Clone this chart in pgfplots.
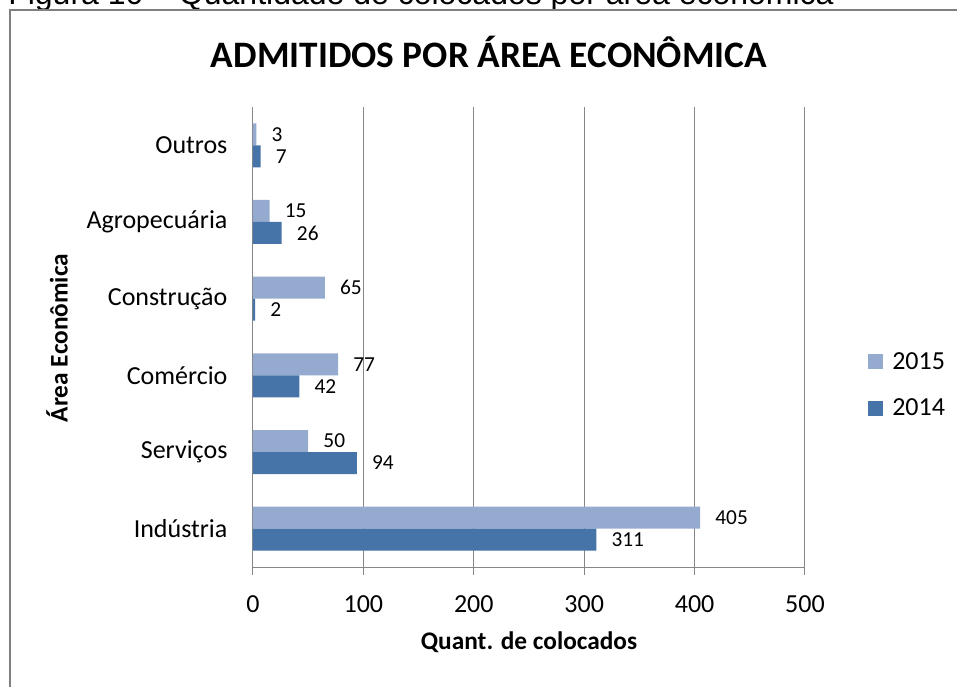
\documentclass[border=0pt]{standalone}
\usepackage{pgfplots}
\pgfplotsset{compat=1.18}
\usepackage{fontspec}
\setmainfont{Carlito}
\newfontfamily\arialfont{Liberation Sans}

\definecolor{c2015}{RGB}{149,170,207}
\definecolor{c2014}{RGB}{70,115,168}
\definecolor{gridgray}{RGB}{134,134,134}
\definecolor{framegray}{RGB}{128,128,128}

% admitidos por area: 0 = Industria ... 5 = Outros
\pgfplotstableread{
pos y2015 y2014
0 405 311
1 50 94
2 77 42
3 65 2
4 15 26
5 3 7
}\admitidos

\begin{document}
\begin{tikzpicture}
\useasboundingbox (0,0) rectangle (717.75pt,514.5pt);
\clip (0,0) rectangle (717.75pt,514.5pt);

\node[anchor=base west, inner sep=0pt, font=\arialfont\fontsize{24}{28}\selectfont]
  at (6pt,510.75pt) {Figura 10 – Quantidade de colocados por área econômica};
\draw[framegray, line width=1.5pt] (7.5pt,-5pt) -- (7.5pt,507pt) -- (725pt,507pt);

\node[anchor=base, inner sep=0pt, font=\bfseries\fontsize{28}{32}\selectfont]
  at (366.75pt,463.5pt) {ADMITIDOS POR ÁREA ECONÔMICA};

\begin{axis}[
  at={(189.75pt,89.25pt)}, anchor=south west,
  width=414pt, height=345pt, scale only axis,
  xbar, bar width=16.5pt,
  xmin=0, xmax=500, xtick={0,100,...,500},
  ymin=-0.5, ymax=5.5, ytick={0,...,5},
  yticklabels={Indústria,Serviços,Comércio,Construção,Agropecuária,Outros},
  axis x line*=bottom, axis y line*=left,
  axis line style={gridgray, line width=0.75pt},
  xmajorgrids, major grid style={gridgray, line width=0.75pt},
  xtick align=outside, major tick length=6pt,
  xtick style={gridgray, line width=0.75pt},
  ytick style={draw=none},
  /pgf/number format/assume math mode=true,
  tick label style={font=\fontsize{19.5}{22}\selectfont},
  xticklabel style={anchor=north, inner sep=0pt, yshift=-15pt},
  yticklabel style={anchor=east, inner sep=0pt, xshift=-13pt},
  xlabel={Quant. de colocados},
  xlabel style={font=\bfseries\fontsize{19}{22}\selectfont, at={(0.5,0)}, anchor=base, yshift=-61.5pt},
  point meta=x,
  nodes near coords,
  nodes near coords style={font=\fontsize{16}{18}\selectfont, anchor=west, inner sep=0pt, xshift=11.25pt, black},
  legend style={at={(1,0.5)}, anchor=west, xshift=47pt, yshift=-36pt,
    draw=none, fill=none, inner sep=0pt, row sep=20.5pt,
    font=\fontsize{19.5}{22}\selectfont,
    nodes={inner sep=0pt, inner xsep=7pt}},
  legend cell align=left,
  legend image code/.code={\fill[#1] (0pt,-5.625pt) rectangle (11.25pt,5.625pt);},
]
\addplot[fill=c2015, draw=none, bar shift=8.25pt] table[x=y2015, y=pos] {\admitidos};
\addplot[fill=c2014, draw=none, bar shift=-8.25pt] table[x=y2014, y=pos] {\admitidos};
\legend{2015,2014}
\end{axis}

\node[rotate=90, inner sep=0pt, font=\bfseries\fontsize{19}{22}\selectfont]
  at (42.75pt,261pt) {Área Econômica};
\end{tikzpicture}
\end{document}
